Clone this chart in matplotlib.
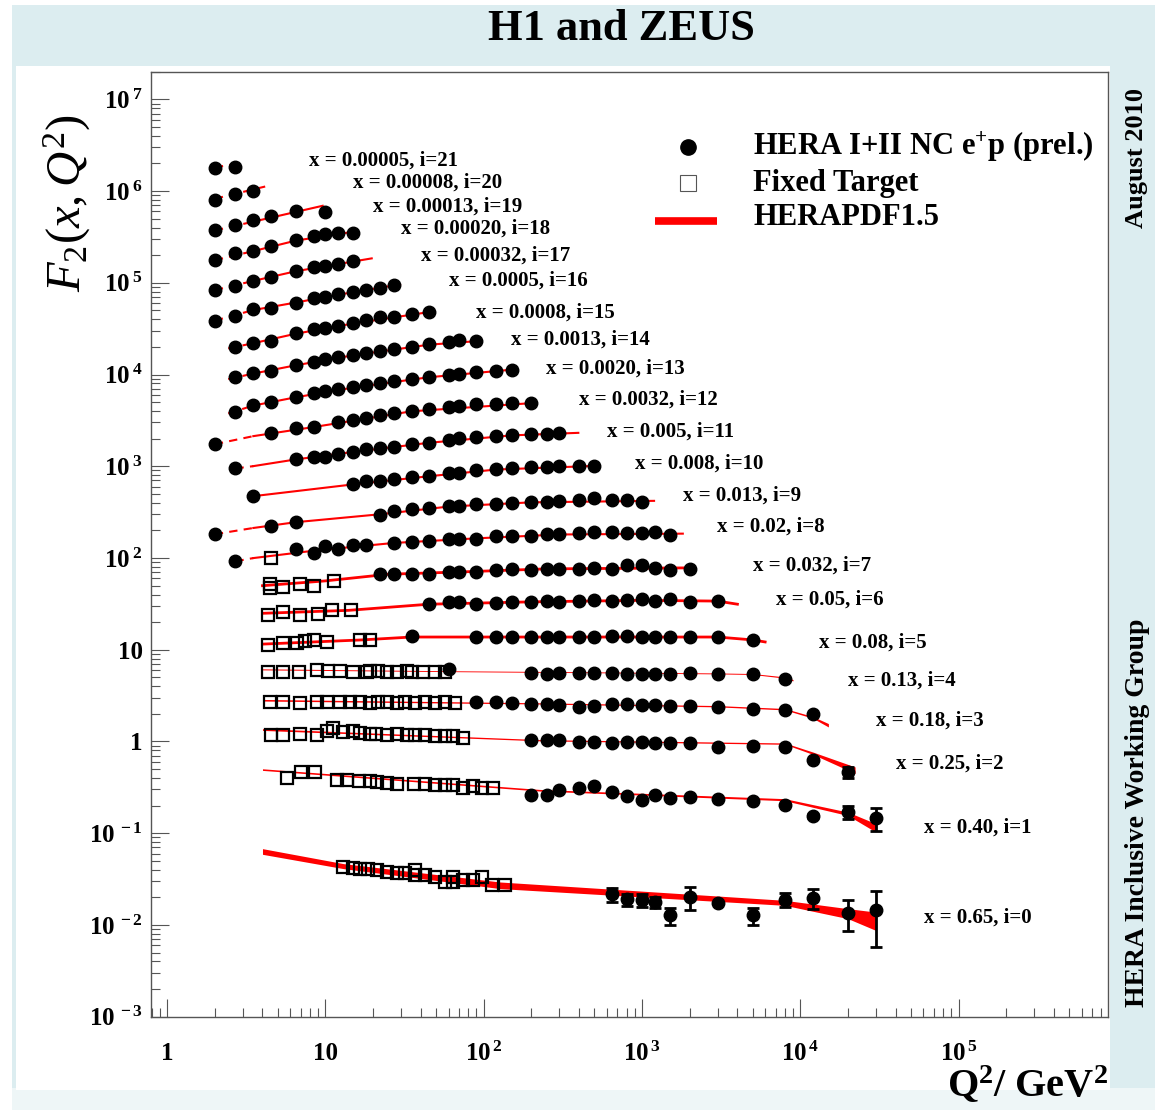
import matplotlib
matplotlib.use("Agg")
import numpy as np
import matplotlib.pyplot as plt
from matplotlib.patches import Rectangle
from matplotlib.ticker import LogLocator, NullFormatter

plt.rcParams['font.family'] = ['Liberation Serif', 'DejaVu Serif']
plt.rcParams['mathtext.fontset'] = 'custom'
plt.rcParams['mathtext.rm'] = 'Liberation Serif'
plt.rcParams['mathtext.it'] = 'Liberation Serif:italic'
plt.rcParams['mathtext.bf'] = 'Liberation Serif:bold'

# Bjorken-x of each bin, index = i (F2 is drawn times 2^i)
x_bins = ['0.65', '0.40', '0.25', '0.18', '0.13', '0.08', '0.05', '0.032', '0.02',
          '0.013', '0.008', '0.005', '0.0032', '0.0020', '0.0013', '0.0008', '0.0005',
          '0.00032', '0.00020', '0.00013', '0.00008', '0.00005']

# HERA I+II NC e+p points (Q2, F2)
hera_q2 = [
    [650, 800, 1000, 1200, 1500, 2000, 3000, 5000, 8000, 12000, 20000, 30000],
    [200, 250, 300, 400, 500, 650, 800, 1000, 1200, 1500, 2000, 3000, 5000, 8000, 12000, 20000, 30000],
    [200, 250, 300, 400, 500, 650, 800, 1000, 1200, 1500, 2000, 3000, 5000, 8000, 12000, 20000],
    [90, 120, 150, 200, 250, 300, 400, 500, 650, 800, 1000, 1200, 1500, 2000, 3000, 5000, 8000, 12000],
    [60, 200, 250, 300, 400, 500, 650, 800, 1000, 1200, 1500, 2000, 3000, 5000, 8000],
    [35, 90, 120, 150, 200, 250, 300, 400, 500, 650, 800, 1000, 1200, 1500, 2000, 3000, 5000],
    [45, 60, 70, 90, 120, 150, 200, 250, 300, 400, 500, 650, 800, 1000, 1200, 1500, 2000, 3000],
    [22, 27, 35, 45, 60, 70, 90, 120, 150, 200, 250, 300, 400, 500, 650, 800, 1000, 1200, 1500, 2000],
    [2.7, 6.5, 8.5, 10, 12, 15, 18, 27, 35, 45, 60, 70, 90, 120, 150, 200, 250, 300, 400, 500, 650, 800, 1000, 1200, 1500],
    [2, 4.5, 6.5, 22, 27, 35, 45, 60, 70, 90, 120, 150, 200, 250, 300, 400, 500, 650, 800, 1000],
    [3.5, 15, 18, 22, 27, 35, 45, 60, 70, 90, 120, 150, 200, 250, 300, 400, 500],
    [2.7, 6.5, 8.5, 10, 12, 15, 18, 22, 27, 35, 45, 60, 70, 90, 120, 150, 200, 250, 300],
    [2, 4.5, 6.5, 8.5, 12, 15, 18, 22, 27, 35, 45, 60, 70, 90, 120, 150, 200],
    [2.7, 3.5, 4.5, 6.5, 8.5, 10, 12, 15, 18, 22, 27, 35, 45, 60, 70, 90, 120, 150],
    [2.7, 3.5, 4.5, 6.5, 8.5, 10, 12, 15, 18, 22, 27, 35, 45, 60, 70, 90],
    [2.7, 3.5, 4.5, 6.5, 8.5, 10, 12, 15, 18, 22, 27, 35, 45],
    [2, 2.7, 3.5, 4.5, 6.5, 8.5, 10, 12, 15, 18, 22, 27],
    [2, 2.7, 3.5, 4.5, 6.5, 8.5, 10, 12, 15],
    [2, 2.7, 3.5, 4.5, 6.5, 8.5, 10, 12, 15],
    [2, 2.7, 3.5, 4.5, 6.5, 10],
    [2, 2.7, 3.5],
    [2, 2.7],
]
hera_f2 = [
    [0.0216, 0.0190, 0.0186, 0.0178, 0.0127, 0.0202, 0.0175, 0.0127, 0.0189, 0.0197, 0.0136, 0.0147],
    [0.1295, 0.1318, 0.1494, 0.1555, 0.1623, 0.1407, 0.1272, 0.1162, 0.1318, 0.1210, 0.1241, 0.1192,
     0.1122, 0.1007, 0.0764, 0.0852, 0.0732],
    [0.262, 0.258, 0.258, 0.247, 0.247, 0.243, 0.247, 0.247, 0.243, 0.243, 0.241, 0.215, 0.222, 0.215,
     0.159, 0.116],
    [0.339, 0.335, 0.326, 0.322, 0.322, 0.316, 0.297, 0.304, 0.320, 0.320, 0.316, 0.316, 0.306, 0.303,
     0.297, 0.281, 0.278, 0.247],
    [0.390, 0.353, 0.344, 0.353, 0.353, 0.353, 0.353, 0.344, 0.344, 0.344, 0.344, 0.353, 0.338, 0.344, 0.303],
    [0.439, 0.431, 0.431, 0.433, 0.428, 0.431, 0.431, 0.431, 0.431, 0.439, 0.439, 0.431, 0.431, 0.431,
     0.431, 0.431, 0.397],
    [0.490, 0.515, 0.515, 0.490, 0.502, 0.515, 0.515, 0.528, 0.519, 0.532, 0.542, 0.532, 0.542, 0.555,
     0.532, 0.555, 0.519, 0.532],
    [0.529, 0.529, 0.520, 0.529, 0.551, 0.551, 0.551, 0.575, 0.590, 0.582, 0.600, 0.600, 0.600, 0.615,
     0.600, 0.652, 0.652, 0.615, 0.585, 0.600],
    [0.360, 0.484, 0.448, 0.525, 0.484, 0.539, 0.539, 0.571, 0.585, 0.600, 0.622, 0.637, 0.637, 0.675,
     0.684, 0.679, 0.710, 0.710, 0.723, 0.741, 0.741, 0.723, 0.723, 0.741, 0.692],
    [0.355, 0.437, 0.484, 0.582, 0.633, 0.660, 0.687, 0.717, 0.717, 0.754, 0.767, 0.783, 0.793, 0.799,
     0.813, 0.834, 0.888, 0.848, 0.834, 0.799],
    [0.461, 0.623, 0.677, 0.672, 0.706, 0.737, 0.767, 0.827, 0.827, 0.886, 0.901, 0.931, 0.948, 0.955,
     0.979, 0.979, 0.979],
    [0.462, 0.583, 0.618, 0.618, 0.662, 0.701, 0.745, 0.763, 0.795, 0.844, 0.879, 0.940, 0.981, 1.022,
     1.040, 1.066, 1.099, 1.085, 1.113],
    [0.425, 0.565, 0.640, 0.657, 0.744, 0.777, 0.823, 0.881, 0.919, 0.974, 1.016, 1.085, 1.104, 1.152,
     1.161, 1.206, 1.182],
    [0.479, 0.566, 0.615, 0.687, 0.759, 0.805, 0.846, 0.883, 0.935, 0.991, 1.034, 1.088, 1.144, 1.218,
     1.249, 1.297, 1.329, 1.381],
    [0.568, 0.627, 0.665, 0.773, 0.840, 0.899, 0.938, 0.994, 1.037, 1.098, 1.146, 1.224, 1.300, 1.388,
     1.448, 1.412],
    [0.612, 0.666, 0.706, 0.856, 0.947, 0.986, 1.037, 1.101, 1.196, 1.280, 1.299, 1.391, 1.451],
    [0.588, 0.661, 0.782, 0.802, 0.924, 1.031, 1.073, 1.140, 1.199, 1.270, 1.326, 1.429],
    [0.635, 0.702, 0.802, 0.887, 1.023, 1.123, 1.161, 1.220, 1.316],
    [0.675, 0.798, 0.852, 0.966, 1.115, 1.232, 1.286, 1.318, 1.339],
    [0.716, 0.812, 0.921, 1.018, 1.154, 1.126],
    [0.761, 0.878, 0.954],
    [0.843, 0.878],
]
# visible error bars (bins 0-2, same order as hera_q2)
err_0 = [0.004, 0.003, 0.003, 0.0025, 0.0026, 0.0057, 0.0, 0.0026, 0.0033, 0.0048, 0.005, 0.009]
err_1 = [0.0] * 14 + [0.004, 0.013, 0.02]
err_2 = [0.0] * 15 + [0.015]

# fixed target points (Q2, F2)
ft_q2 = [
    [13.0, 15.0, 16.6, 18.7, 21.3, 24.4, 28.3, 31.9, 36.9, 36.9, 42.6, 49.3, 57.0, 64.4, 64.4, 74.4, 85.3, 97.3, 112.5, 136.5],
    [5.70, 6.99, 8.61, 11.8, 13.6, 16.2, 19.2, 21.3, 24.4, 28.3, 36.3, 42.6, 49.3, 57.0, 64.4, 73.8, 85.3, 97.3, 115],
    [4.5, 5.4, 6.9, 8.8, 10.2, 11.2, 12.9, 15.0, 16.6, 19.2, 21.0, 24.4, 28.3, 32.7, 37.0, 42.6, 49.3, 57.0, 64.4, 74.4],
    [4.47, 5.43, 6.92, 8.83, 10.2, 12.4, 14.3, 16.6, 19.2, 21.6, 24.4, 28.3, 31.9, 36.9, 42.6, 49.3, 57.0, 66.0],
    [4.36, 5.43, 6.85, 8.83, 10.4, 12.4, 15.0, 18.3, 19.2, 21.6, 24.4, 28.3, 32.7, 35.1, 41.6, 49.3, 57.0],
    [4.36, 5.43, 6.60, 7.44, 8.49, 10.2, 16.6, 19.2],
    [4.36, 5.43, 6.92, 9.03, 11.0, 14.5],
    [4.47, 4.47, 5.43, 6.92, 8.49, 11.4],
    [4.5],
]
ft_f2 = [
    [0.0428, 0.0417, 0.0404, 0.0411, 0.0394, 0.0377, 0.0368, 0.0372, 0.0394, 0.0348, 0.0348, 0.0333,
     0.0294, 0.0333, 0.0294, 0.0306, 0.0312, 0.0333, 0.0275, 0.0270],
    [0.202, 0.232, 0.232, 0.192, 0.189, 0.185, 0.184, 0.181, 0.178, 0.174, 0.174, 0.174, 0.166, 0.166,
     0.169, 0.157, 0.162, 0.157, 0.156],
    [0.292, 0.292, 0.305, 0.292, 0.323, 0.351, 0.317, 0.323, 0.309, 0.305, 0.305, 0.292, 0.305, 0.297,
     0.292, 0.292, 0.285, 0.285, 0.285, 0.276],
    [0.335, 0.335, 0.330, 0.335, 0.340, 0.335, 0.333, 0.335, 0.330, 0.335, 0.333, 0.330, 0.335, 0.330,
     0.333, 0.330, 0.333, 0.330],
    [0.362, 0.362, 0.358, 0.372, 0.366, 0.366, 0.362, 0.358, 0.364, 0.366, 0.362, 0.362, 0.368, 0.362,
     0.360, 0.358, 0.362],
    [0.350, 0.371, 0.371, 0.390, 0.404, 0.380, 0.404, 0.404],
    [0.378, 0.404, 0.378, 0.388, 0.421, 0.421],
    [0.412, 0.372, 0.378, 0.405, 0.388, 0.436],
    [0.386],
]

# HERAPDF1.5 curves (thin line) for bins 5..21, index = i - 5
curve_q2 = [
    [4.0, 17, 35, 300, 3000, 5000, 6000],
    [4.0, 14, 45, 200, 1000, 3000, 4008],
    [4.0, 10, 25, 70, 250, 2000],
    [2.7, 3.5, 8.5, 27, 90, 300, 1811],
    [2.0, 3.5, 6.5, 22, 60, 200, 1192],
    [3.5, 15, 45, 120, 500],
    [2.7, 3.5, 6.5, 15, 45, 150, 396],
    [2.0, 3.5, 8.5, 35, 200],
    [2.43, 3.5, 6.5, 15, 45, 158],
    [2.43, 3.5, 6.5, 15, 45, 95],
    [2.43, 3.5, 6.5, 15, 47.2],
    [2.0, 3.5, 6.5, 12, 29.6],
    [2.0, 3.5, 6.5, 19.6],
    [2.0, 3.5, 6.5, 15],
    [2.0, 3.5, 9.6],
    [2.0, 3.5, 4.1],
    [2.0, 2.98],
]
curve_f2 = [
    [0.36, 0.40, 0.43, 0.43, 0.43, 0.40, 0.38],
    [0.39, 0.42, 0.49, 0.52, 0.54, 0.53, 0.49],
    [0.39, 0.44, 0.52, 0.55, 0.595, 0.61],
    [0.36, 0.39, 0.47, 0.57, 0.64, 0.705, 0.72],
    [0.355, 0.415, 0.48, 0.585, 0.71, 0.79, 0.82],
    [0.461, 0.62, 0.76, 0.90, 0.985],
    [0.462, 0.49, 0.58, 0.70, 0.88, 1.06, 1.13],
    [0.425, 0.52, 0.655, 0.97, 1.19],
    [0.46, 0.56, 0.69, 0.88, 1.14, 1.39],
    [0.544, 0.625, 0.77, 0.99, 1.29, 1.42],
    [0.588, 0.67, 0.85, 1.10, 1.48],
    [0.59, 0.77, 0.93, 1.13, 1.466],
    [0.635, 0.80, 1.02, 1.408],
    [0.673, 0.845, 1.10, 1.373],
    [0.710, 0.885, 1.318],
    [0.786, 0.994, 1.062],
    [0.865, 0.963],
]

# HERAPDF1.5 bands for bins 0..4
band_q2 = [
    [4.0, 13, 127, 8000, 20000, 30000],
    [4.0, 227, 8000, 20000, 30000],
    [4.0, 227, 8000, 12000, 22200],
    [4.0, 200, 3000, 8000, 12000, 15060],
    [4.0, 60, 500, 3000, 5000, 8000, 9000],
]
band_lo = [
    [0.0589, 0.0411, 0.0249, 0.01636, 0.01172, 0.00873],
    [0.242, 0.144, 0.113, 0.078, 0.0515],
    [0.330, 0.254, 0.233, 0.181, 0.112],
    [0.345, 0.321, 0.298, 0.276, 0.224, 0.180],
    [0.377, 0.361, 0.351, 0.341, 0.336, 0.306, 0.286],
]
band_hi = [
    [0.0679, 0.0466, 0.0294, 0.01855, 0.01506, 0.01382],
    [0.252, 0.150, 0.119, 0.085, 0.0636],
    [0.345, 0.262, 0.241, 0.192, 0.132],
    [0.359, 0.331, 0.308, 0.286, 0.234, 0.196],
    [0.387, 0.369, 0.359, 0.349, 0.344, 0.316, 0.296],
]

# where each bin label sits (axes fraction)
label_pos = [(0.8077, 0.1045), (0.8077, 0.1998), (0.7785, 0.2675), (0.7576, 0.3130),
             (0.7283, 0.3553), (0.6980, 0.3955), (0.6531, 0.4410), (0.6291, 0.4770),
             (0.5914, 0.5182), (0.5559, 0.5510), (0.5057, 0.5849), (0.4765, 0.6188),
             (0.4472, 0.6526), (0.4128, 0.6854), (0.3762, 0.7161), (0.3396, 0.7447),
             (0.3114, 0.7785), (0.2821, 0.8050), (0.2612, 0.8335), (0.2320, 0.8568),
             (0.2111, 0.8822), (0.1651, 0.9055)]

W, H = 1163, 1114
fig = plt.figure(figsize=(W / 100, H / 100), dpi=100)
fig.patch.set_facecolor('white')
# slide background
fig.patches.append(Rectangle((12 / W, 1 - 1110 / H), 1143 / W, 1105 / H, transform=fig.transFigure,
                             facecolor='#dcedf0', edgecolor='none', zorder=-10))
fig.patches.append(Rectangle((12 / W, 1 - 1110 / H), 1143 / W, 22 / H, transform=fig.transFigure,
                             facecolor='#eef6f7', edgecolor='none', zorder=-9.5))
fig.patches.append(Rectangle((16 / W, 1 - 1090 / H), 1094 / W, 1024 / H, transform=fig.transFigure,
                             facecolor='white', edgecolor='none', zorder=-9))

ax = fig.add_axes([151 / W, 1 - 1016.7 / H, 957 / W, 945 / H])
ax.set_xscale('log')
ax.set_yscale('log')

red = '#ff0000'
dash_limit = 3.5

for i in range(22):
    s = 2.0 ** i
    if i <= 4:
        q = np.array(band_q2[i])
        ax.fill_between(q, np.array(band_lo[i]) * s, np.array(band_hi[i]) * s,
                        color=red, lw=0, zorder=2)
    else:
        q = np.array(curve_q2[i - 5])
        f = np.array(curve_f2[i - 5]) * s
        lw = 2.0 if i <= 7 else 1.5
        lo = q <= dash_limit
        hi = q >= dash_limit
        if lo.sum() >= 2:
            ax.plot(q[lo], f[lo], color=red, lw=lw, ls=(0, (4, 3)), zorder=2)
        if hi.sum() >= 2:
            ax.plot(q[hi], f[hi], color=red, lw=lw, zorder=2)

    if i < len(ft_q2):
        ax.plot(ft_q2[i], np.array(ft_f2[i]) * s, 's', ms=8.5, mfc='none', mec='black',
                mew=1.6, zorder=3)

    y = np.array(hera_f2[i]) * s
    if i in (0, 1, 2):
        e = np.array([err_0, err_1, err_2][i]) * s
        ax.errorbar(hera_q2[i], y, yerr=e, fmt='o', ms=9, color='black', ecolor='black',
                    elinewidth=2, capsize=4, capthick=2, zorder=4)
    else:
        ax.plot(hera_q2[i], y, 'o', ms=9, color='black', zorder=4)

    ax.text(label_pos[i][0], label_pos[i][1], f'x = {x_bins[i]}, i={i}', transform=ax.transAxes,
            fontsize=15, fontweight='bold', ha='left', va='center')

ax.set_xlim(0.79, 8.8e5)
ax.set_ylim(1e-3, 2e7)

xt = [1, 10, 1e2, 1e3, 1e4, 1e5]
ax.set_xticks(xt)
ax.set_xticklabels(['1', '10', r'$\mathbf{10^{\,2}}$', r'$\mathbf{10^{\,3}}$',
                    r'$\mathbf{10^{\,4}}$', r'$\mathbf{10^{\,5}}$'])
yt = [1e-3, 1e-2, 1e-1, 1, 10, 1e2, 1e3, 1e4, 1e5, 1e6, 1e7]
ax.set_yticks(yt)
ax.set_yticklabels([r'$\mathbf{10^{\;-3}}$', r'$\mathbf{10^{\;-2}}$', r'$\mathbf{10^{\;-1}}$', '1', '10',
                    r'$\mathbf{10^{\;2}}$', r'$\mathbf{10^{\;3}}$', r'$\mathbf{10^{\;4}}$',
                    r'$\mathbf{10^{\;5}}$', r'$\mathbf{10^{\;6}}$', r'$\mathbf{10^{\;7}}$'])
for axis in (ax.xaxis, ax.yaxis):
    axis.set_minor_locator(LogLocator(base=10, subs=np.arange(2, 10), numticks=20))
    axis.set_minor_formatter(NullFormatter())
ax.tick_params(which='both', direction='in', color='#555555', width=0.8,
               top=False, right=False, labelsize=18)
ax.tick_params(which='major', length=13)
ax.tick_params(which='minor', length=6.5)
ax.tick_params(axis='x', pad=18)
ax.tick_params(axis='y', pad=6)
for lab in ax.get_xticklabels() + ax.get_yticklabels():
    lab.set_fontweight('bold')
for sp in ax.spines.values():
    sp.set_color('#555555')
    sp.set_linewidth(1.0)

# legend
ax.plot([0.5611], [0.9203], 'o', ms=11, color='black', transform=ax.transAxes)
ax.plot([0.5611], [0.8822], 's', ms=12, mfc='white', mec='#555555', mew=0.8, transform=ax.transAxes)
ax.plot([0.5266, 0.5914], [0.8420, 0.8420], color=red, lw=5.5, solid_capstyle='butt',
        transform=ax.transAxes)
leg_kw = dict(transform=ax.transAxes, fontsize=22, fontweight='bold', ha='left', va='center')
ax.text(0.6291, 0.9203, r'HERA I+II NC e$^{\mathbf{+}}$p (prel.)', **leg_kw)
ax.text(0.6291, 0.8822, 'Fixed Target', **leg_kw)
ax.text(0.6291, 0.8452, 'HERAPDF1.5', **leg_kw)

# titles
fig.text(621 / W, 1 - 29 / H, 'H1 and ZEUS', fontsize=32, fontweight='bold', ha='center', va='center')
fig.text(67 / W, 1 - 203 / H, r'$F_2(x,Q^2)$', fontsize=35, rotation=90, ha='center', va='center')
fig.text(1108 / W, 1 - 1085 / H, r'$\mathbf{Q^{2}/\ GeV^{2}}$', fontsize=29, ha='right', va='center')
fig.text(1137 / W, 1 - 158 / H, 'August 2010', fontsize=19, fontweight='bold', rotation=90,
         ha='center', va='center')
fig.text(1137 / W, 1 - 813 / H, 'HERA Inclusive Working Group', fontsize=20, fontweight='bold',
         rotation=90, ha='center', va='center')

fig.savefig('out.png', dpi=100)
